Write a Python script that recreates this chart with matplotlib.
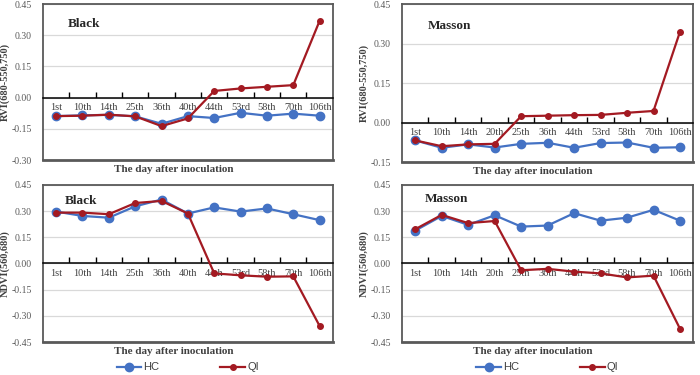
import matplotlib.pyplot as plt
from matplotlib.ticker import FormatStrFormatter
from matplotlib.lines import Line2D

days_black = ['1st', '10th', '14th', '25th', '36th', '40th', '44th', '53rd', '58th', '70th', '106th']
days_masson = ['1st', '10th', '14th', '20th', '25th', '36th', '44th', '53rd', '58th', '70th', '106th']

rvi_black_hc = [-0.089, -0.085, -0.083, -0.090, -0.126, -0.089, -0.098, -0.073, -0.087, -0.077, -0.087]
rvi_black_qi = [-0.089, -0.087, -0.082, -0.090, -0.137, -0.100, 0.032, 0.044, 0.052, 0.060, 0.369]
rvi_masson_hc = [-0.068, -0.096, -0.083, -0.095, -0.081, -0.077, -0.096, -0.078, -0.076, -0.096, -0.094]
rvi_masson_qi = [-0.068, -0.090, -0.083, -0.081, 0.024, 0.026, 0.028, 0.029, 0.037, 0.044, 0.345]
ndvi_black_hc = [0.297, 0.272, 0.262, 0.327, 0.366, 0.286, 0.321, 0.297, 0.315, 0.282, 0.248]
ndvi_black_qi = [0.291, 0.291, 0.282, 0.346, 0.358, 0.286, -0.057, -0.068, -0.076, -0.074, -0.358]
ndvi_masson_hc = [0.188, 0.272, 0.221, 0.276, 0.211, 0.217, 0.288, 0.245, 0.262, 0.307, 0.245]
ndvi_masson_qi = [0.196, 0.278, 0.231, 0.243, -0.039, -0.031, -0.047, -0.057, -0.080, -0.070, -0.374]

HC_COL = '#4472C4'
QI_COL = '#A31A22'

plt.rcParams['font.family'] = ['Liberation Serif', 'DejaVu Serif']
plt.rcParams['axes.unicode_minus'] = False

fig = plt.figure(figsize=(7, 3.75), dpi=100)

# rect, categories, HC, QI, panel name, ylabel, ylim, (name x, name y)
panels = [
    ([0.0614, 0.5733, 0.414, 0.416], days_black, rvi_black_hc, rvi_black_qi, 'Black', 'RVI(680-550,750)', (-0.30, 0.45), (0.086, 0.87)),
    ([0.5743, 0.568, 0.416, 0.421], days_masson, rvi_masson_hc, rvi_masson_qi, 'Masson', 'RVI(680-550,750)', (-0.15, 0.45), (0.089, 0.86)),
    ([0.0614, 0.088, 0.414, 0.419], days_black, ndvi_black_hc, ndvi_black_qi, 'Black', 'NDVI(560,680)', (-0.45, 0.45), (0.076, 0.90)),
    ([0.5743, 0.088, 0.416, 0.419], days_masson, ndvi_masson_hc, ndvi_masson_qi, 'Masson', 'NDVI(560,680)', (-0.45, 0.45), (0.079, 0.91)),
]

for rect, days, hc, qi, name, ylab, ylim, npos in panels:
    ax = fig.add_axes(rect)
    x = list(range(len(days)))
    ax.plot(x, hc, color=HC_COL, lw=1.6, marker='o', ms=6, zorder=3)
    ax.plot(x, qi, color=QI_COL, lw=1.6, marker='o', ms=4, zorder=4)
    ax.set_xlim(-0.5, len(days) - 0.5)
    ax.set_ylim(*ylim)
    ax.set_yticks([v / 100 for v in range(int(round(ylim[0] * 100)), 46, 15)])
    ax.yaxis.set_major_formatter(FormatStrFormatter('%.2f'))
    ax.grid(axis='y', color='#D9D9D9', lw=0.9)
    ax.set_axisbelow(True)
    for s in ['top', 'right', 'left']:
        ax.spines[s].set_color('#595959')
        ax.spines[s].set_linewidth(1.3)
    ax.spines['bottom'].set_position(('data', 0))
    ax.spines['bottom'].set_color('black')
    ax.spines['bottom'].set_linewidth(1.1)
    ax.axhline(ylim[0], color='#595959', lw=2.0, clip_on=False)
    ax.set_xticks(x)
    ax.set_xticklabels(days)
    ax.set_xticks([i + 0.5 for i in x[:-1]], minor=True)
    ax.tick_params(axis='x', which='major', length=0, pad=4, labelsize=7.5, labelcolor='#404040')
    ax.tick_params(axis='x', which='minor', direction='in', length=4, width=1, color='black')
    ax.tick_params(axis='y', length=0, labelsize=7, labelcolor='#595959', pad=8)
    ax.set_ylabel(ylab, fontsize=7.5, fontweight='bold', color='#404040')
    ax.yaxis.set_label_coords(-0.115, 0.5)
    ax.text(npos[0], npos[1], name, transform=ax.transAxes, va='center', fontsize=9.5,
            fontweight='bold', color='#262626')
    ax.text(0.45, -0.03, 'The day after inoculation', transform=ax.transAxes, ha='center', va='top',
            fontsize=8, fontweight='bold', color='#404040')

handles = [Line2D([], [], color=HC_COL, lw=1.6, marker='o', ms=6),
           Line2D([], [], color=QI_COL, lw=1.6, marker='o', ms=4)]
for cx in [0.268, 0.782]:
    fig.legend(handles, ['HC', 'QI'], loc='center', bbox_to_anchor=(cx, 0.02), ncol=2, frameon=False,
               prop={'family': 'Liberation Sans', 'size': 8}, handlelength=2.2, columnspacing=5.5,
               handletextpad=0.2, labelcolor='#404040')

fig.savefig('out.png', dpi=100)
